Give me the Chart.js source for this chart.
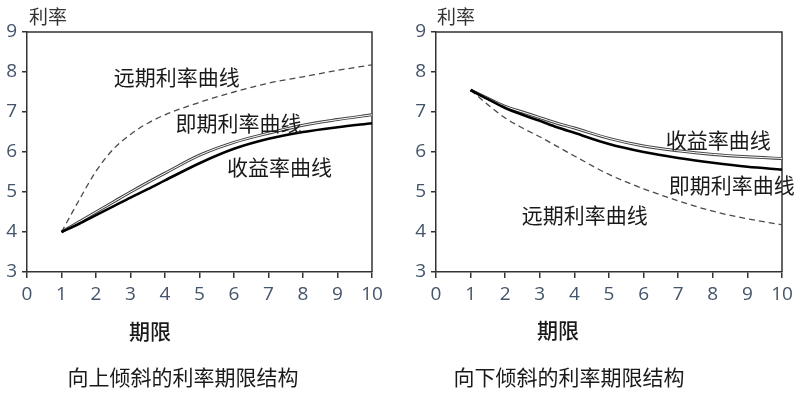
<!DOCTYPE html>
<html>
<head>
<meta charset="utf-8">
<script src="https://cdn.jsdelivr.net/npm/chart.js@4.4.1/dist/chart.umd.min.js"></script>
<style>
  html, body { margin: 0; padding: 0; background: #fff; }
  #wrap { position: relative; width: 803px; height: 394px; }
  .box { position: absolute; top: 0; height: 394px; }
</style>
</head>
<body>
<div id="wrap">
  <div class="box" style="left:0;width:400px"><canvas id="chart-up" width="400" height="394"></canvas></div>
  <div class="box" style="left:400px;width:403px"><canvas id="chart-down" width="403" height="394"></canvas></div>
</div>
<script>
// Upward sloping term structure (left)
var up_years   = [1, 1.5, 2, 2.5, 3, 3.5, 4, 5, 6, 7, 8, 9, 10];
var up_forward = [4.0, 4.78, 5.52, 6.07, 6.44, 6.72, 6.93, 7.24, 7.5, 7.72, 7.88, 8.04, 8.18];
var up_spot    = [4.0, 4.25, 4.5, 4.75, 5.0, 5.24, 5.47, 5.92, 6.24, 6.47, 6.67, 6.81, 6.93];
var up_yield   = [4.0, 4.2, 4.42, 4.64, 4.86, 5.07, 5.29, 5.72, 6.08, 6.33, 6.5, 6.62, 6.72];

// Downward sloping term structure (right)
var down_years   = [1, 1.5, 2, 2.5, 3, 3.5, 4, 5, 6, 7, 8, 9, 10];
var down_forward = [7.55, 7.18, 6.85, 6.6, 6.38, 6.14, 5.9, 5.44, 5.08, 4.78, 4.52, 4.33, 4.18];
var down_yield   = [7.55, 7.34, 7.14, 7.0, 6.86, 6.72, 6.6, 6.34, 6.15, 6.03, 5.94, 5.88, 5.84];
var down_spot    = [7.55, 7.32, 7.1, 6.93, 6.78, 6.62, 6.48, 6.2, 6.0, 5.85, 5.73, 5.63, 5.56];

// Axis ticks
var x_ticks = [0, 10];
var y_ticks = [3, 9];

var tick_font  = { family: '"Open Sans", "DejaVu Sans", sans-serif', size: 19 };
var tick_color = '#44546a';
var axis_color = '#333333';
var cjk        = '"Noto Sans CJK SC", sans-serif';

function pts(xs, ys) {
    return xs.map(function (x, i) { return { x: x, y: ys[i] }; });
}

// thin upper curve drawn as an outlined (double) stroke, thick lower curve, dashed forward curve
function lineSets(years, forward, upper, lower) {
    return [
        { data: pts(years, lower),   borderColor: '#000', borderWidth: 2.6, order: 1 },
        { data: pts(years, forward), borderColor: '#4a4a4a', borderWidth: 1.3, borderDash: [6, 4], order: 2 },
        { data: pts(years, upper),   borderColor: '#fff', borderWidth: 1,   order: 3 },
        { data: pts(years, upper),   borderColor: '#444', borderWidth: 3,   order: 4 }
    ];
}

/**
 * Frame on top/right and the texts of each panel
 */
var panelText = {
    id: 'panelText',
    beforeDatasetsDraw: function (chart) {
        let a = chart.chartArea, ctx = chart.ctx;
        ctx.save();
        ctx.strokeStyle = axis_color;
        ctx.lineWidth = 1.5;
        ctx.beginPath();
        ctx.moveTo(a.left, a.top);
        ctx.lineTo(a.right, a.top);
        ctx.lineTo(a.right, a.bottom);
        ctx.stroke();
        ctx.restore();
    },
    afterDraw: function (chart, args, o) {
        let ctx = chart.ctx, sx = chart.scales.x, sy = chart.scales.y;
        ctx.save();
        ctx.textBaseline = 'middle';
        ctx.fillStyle = '#1a1a1a';

        // curve labels, placed in data units
        ctx.textAlign = 'center';
        ctx.font = '21px ' + cjk;
        o.curves.forEach(function (l) {
            ctx.fillText(l.text, sx.getPixelForValue(l.x), sy.getPixelForValue(l.y));
        });

        // y title
        ctx.textAlign = 'left';
        ctx.font = '19px ' + cjk;
        ctx.fillStyle = '#333';
        ctx.fillText('利率', o.yTitle[0], o.yTitle[1]);

        // x title
        ctx.textAlign = 'center';
        ctx.font = '500 21px ' + cjk;
        ctx.fillStyle = '#1a1a1a';
        ctx.fillText('期限', o.xTitle[0], o.xTitle[1]);

        // caption
        ctx.font = '21px ' + cjk;
        ctx.fillText(o.caption, o.capPos[0], o.capPos[1]);
        ctx.restore();
    }
};

function makeChart(id, datasets, yWidth, padRight, textOpts) {
    return new Chart(document.getElementById(id), {
        type: 'line',
        data: { datasets: datasets },
        plugins: [panelText],
        options: {
            responsive: false,
            animation: false,
            layout: { padding: { top: 32, right: padRight, bottom: 92, left: 0 } },
            elements: {
                point: { radius: 0 },
                line:  { cubicInterpolationMode: 'monotone', fill: false }
            },
            scales: {
                x: {
                    type: 'linear',
                    min: x_ticks[0], max: x_ticks[1],
                    ticks: { stepSize: 1, font: tick_font, color: tick_color, padding: 5, maxRotation: 0 },
                    grid: { drawOnChartArea: false, tickLength: 6, color: axis_color, lineWidth: 1.5 },
                    border: { color: axis_color, width: 1.5 },
                    afterFit: function (scale) { scale.height = 30; }
                },
                y: {
                    min: y_ticks[0], max: y_ticks[1],
                    ticks: { stepSize: 1, font: tick_font, color: tick_color, padding: 5 },
                    grid: { drawOnChartArea: false, tickLength: 5, color: axis_color, lineWidth: 1.5 },
                    border: { color: axis_color, width: 1.5 },
                    afterFit: function (scale) { scale.width = yWidth; }
                }
            },
            plugins: {
                legend:  { display: false },
                tooltip: { enabled: false },
                panelText: textOpts
            }
        }
    });
}

makeChart('chart-up', lineSets(up_years, up_forward, up_spot, up_yield), 27, 28, {
    curves: [
        { text: '远期利率曲线', x: 4.34, y: 7.88 },
        { text: '即期利率曲线', x: 6.13, y: 6.73 },
        { text: '收益率曲线',   x: 7.32, y: 5.63 }
    ],
    yTitle:  [29, 17],
    xTitle:  [150, 331],
    caption: '向上倾斜的利率期限结构',
    capPos:  [183, 377]
});

makeChart('chart-down', lineSets(down_years, down_forward, down_yield, down_spot), 36, 21, {
    curves: [
        { text: '收益率曲线',   x: 8.16, y: 6.31 },
        { text: '即期利率曲线', x: 8.55, y: 5.18 },
        { text: '远期利率曲线', x: 4.3,  y: 4.43 }
    ],
    yTitle:  [37, 17],
    xTitle:  [158, 330],
    caption: '向下倾斜的利率期限结构',
    capPos:  [169, 377]
});
</script>
</body>
</html>
